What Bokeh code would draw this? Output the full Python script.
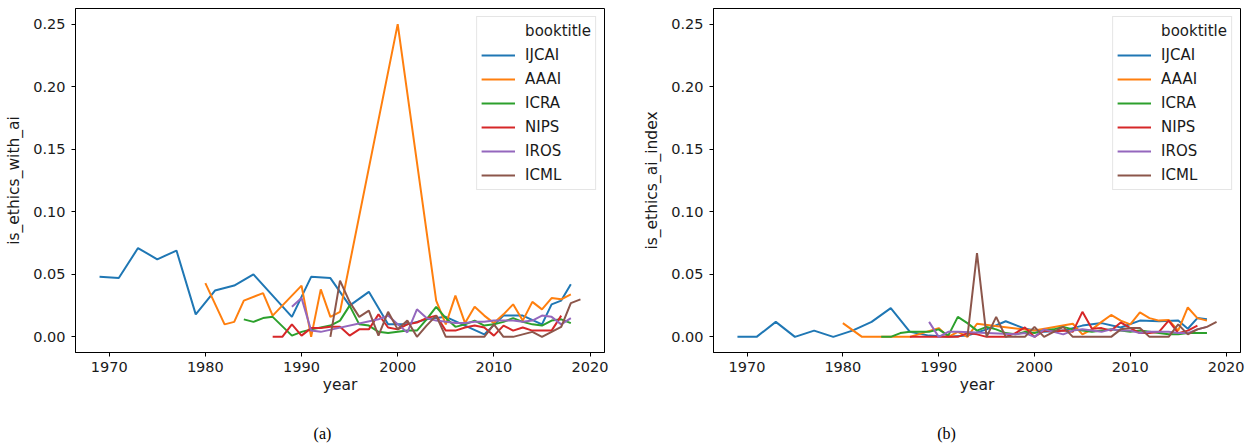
from bokeh.plotting import figure
from bokeh.models import Range1d, FixedTicker, NumeralTickFormatter, Legend, LegendItem, Label
from bokeh.layouts import row, column
from bokeh.embed import file_html
from bokeh.resources import INLINE

booktitles = ["IJCAI", "AAAI", "ICRA", "NIPS", "IROS", "ICML"]
palette = ["#1f77b4", "#ff7f0e", "#2ca02c", "#d62728", "#9467bd", "#8c564b"]
x_ticks = [1970, 1980, 1990, 2000, 2010, 2020]
y_ticks = [0.0, 0.05, 0.10, 0.15, 0.20, 0.25]

# ---------------- panel (a): is_ethics_with_ai ----------------
a_ijcai_year = [1969, 1971, 1973, 1975, 1977, 1979, 1981, 1983, 1985, 1987, 1989, 1991, 1993, 1995,
                1997, 1999, 2001, 2003, 2005, 2007, 2009, 2011, 2013, 2015, 2016, 2017, 2018]
a_ijcai_val = [0.048, 0.047, 0.071, 0.062, 0.069, 0.018, 0.037, 0.041, 0.050, 0.033, 0.016, 0.048, 0.047, 0.025,
               0.036, 0.010, 0.010, 0.014, 0.016, 0.009, 0.002, 0.017, 0.017, 0.010, 0.026, 0.029, 0.042]

a_aaai_year = [1980, 1982, 1983, 1984, 1986, 1987, 1990, 1991, 1992, 1993, 1994, 2000, 2004, 2005, 2006,
               2007, 2008, 2009, 2010, 2011, 2012, 2013, 2014, 2015, 2016, 2017, 2018]
a_aaai_val = [0.043, 0.010, 0.012, 0.029, 0.035, 0.017, 0.041, 0.000, 0.038, 0.016, 0.020, 0.250, 0.029, 0.010, 0.033,
              0.011, 0.024, 0.017, 0.011, 0.018, 0.026, 0.013, 0.028, 0.022, 0.031, 0.030, 0.034]

a_icra_year = [1984, 1985, 1986, 1987, 1989, 1990, 1991, 1992, 1993, 1994, 1995, 1996, 1997, 1998, 1999, 2000,
               2001, 2002, 2003, 2004, 2005, 2006, 2007, 2008, 2009, 2010, 2011, 2012, 2013, 2014, 2015, 2016,
               2017, 2018]
a_icra_val = [0.014, 0.012, 0.015, 0.016, 0.001, 0.004, 0.006, 0.0075, 0.009, 0.013, 0.025, 0.010, 0.009, 0.004,
              0.003, 0.004, 0.005, 0.005, 0.014, 0.024, 0.015, 0.008, 0.010, 0.013, 0.009, 0.010, 0.012, 0.015,
              0.012, 0.010, 0.009, 0.013, 0.014, 0.011]

a_nips_year = [1987, 1988, 1989, 1990, 1991, 1992, 1993, 1994, 1995, 1996, 1997, 1998, 1999, 2000, 2001, 2002,
               2003, 2004, 2005, 2006, 2007, 2008, 2009, 2010, 2011, 2012, 2013, 2014, 2015, 2016, 2017]
a_nips_val = [0.000, 0.000, 0.010, 0.001, 0.007, 0.007, 0.008, 0.008, 0.001, 0.006, 0.006, 0.018, 0.0075, 0.006,
              0.010, 0.0115, 0.015, 0.017, 0.005, 0.005, 0.0075, 0.009, 0.0075, 0.001, 0.009, 0.005, 0.0075,
              0.005, 0.005, 0.005, 0.017]

a_iros_year = [1989, 1990, 1991, 1992, 1998, 1999, 2000, 2001, 2002, 2003, 2004, 2005, 2006, 2007, 2008, 2009,
               2010, 2011, 2012, 2013, 2014, 2015, 2016, 2017, 2018]
a_iros_val = [0.024, 0.031, 0.005, 0.004, 0.014, 0.017, 0.010, 0.0035, 0.022, 0.015, 0.013, 0.012, 0.011, 0.011,
              0.012, 0.012, 0.013, 0.013, 0.013, 0.012, 0.013, 0.017, 0.016, 0.010, 0.015]

a_icml_year = [1993, 1994, 1995, 1996, 1997, 1998, 1999, 2000, 2001, 2002, 2003, 2004, 2005, 2006, 2007, 2008,
               2009, 2010, 2011, 2012, 2013, 2014, 2015, 2016, 2017, 2018, 2019]
a_icml_val = [0.000, 0.045, 0.028, 0.016, 0.021, 0.001, 0.020, 0.006, 0.013, 0.000, 0.009, 0.017, 0.000, 0.000,
              0.000, 0.000, 0.000, 0.010, 0.000, 0.000, 0.002, 0.004, 0.000, 0.004, 0.008, 0.027, 0.030]

# ---------------- panel (b): is_ethics_ai_index ----------------
b_ijcai_year = [1969, 1971, 1973, 1975, 1977, 1979, 1981, 1983, 1985, 1987, 1989, 1991, 1993, 1995,
                1997, 1999, 2001, 2003, 2005, 2007, 2009, 2011, 2013, 2015, 2016, 2017, 2018]
b_ijcai_val = [0.000, 0.000, 0.012, 0.000, 0.005, 0.000, 0.005, 0.012, 0.023, 0.004, 0.001, 0.000, 0.001, 0.006,
               0.0125, 0.0065, 0.004, 0.005, 0.009, 0.011, 0.0075, 0.013, 0.0125, 0.013, 0.0065, 0.015, 0.014]

b_aaai_year = [1980, 1982, 1983, 1984, 1986, 1987, 1990, 1991, 1992, 1993, 1994, 2000, 2004, 2005, 2006,
               2007, 2008, 2009, 2010, 2011, 2012, 2013, 2014, 2015, 2016, 2017, 2018]
b_aaai_val = [0.011, 0.000, 0.000, 0.000, 0.000, 0.000, 0.007, 0.000, 0.004, 0.000, 0.0105, 0.005, 0.0105, 0.002, 0.006,
              0.012, 0.0175, 0.013, 0.010, 0.0195, 0.015, 0.013, 0.0135, 0.005, 0.0235, 0.015, 0.013]

b_icra_year = [1984, 1985, 1986, 1987, 1989, 1990, 1991, 1992, 1993, 1994, 1995, 1996, 1997, 1998, 1999, 2000,
               2001, 2002, 2003, 2004, 2005, 2006, 2007, 2008, 2009, 2010, 2011, 2012, 2013, 2014, 2015, 2016,
               2017, 2018]
b_icra_val = [0.000, 0.000, 0.003, 0.004, 0.004, 0.006, 0.001, 0.016, 0.011, 0.005, 0.008, 0.006, 0.003, 0.002,
              0.004, 0.003, 0.005, 0.006, 0.008, 0.006, 0.005, 0.004, 0.005, 0.006, 0.005, 0.004, 0.005, 0.004,
              0.003, 0.002, 0.002, 0.003, 0.003, 0.003]

b_nips_year = [1987, 1988, 1989, 1990, 1991, 1992, 1993, 1994, 1995, 1996, 1997, 1998, 1999, 2000, 2001, 2002,
               2003, 2004, 2005, 2006, 2007, 2008, 2009, 2010, 2011, 2012, 2013, 2014, 2015, 2016, 2017]
b_nips_val = [0.000, 0.000, 0.000, 0.000, 0.000, 0.000, 0.003, 0.002, 0.000, 0.000, 0.000, 0.003, 0.0075, 0.000,
              0.005, 0.004, 0.005, 0.004, 0.020, 0.0065, 0.007, 0.005, 0.0115, 0.007, 0.003, 0.003, 0.004,
              0.013, 0.003, 0.005, 0.009]

b_iros_year = [1989, 1990, 1991, 1992, 1998, 1999, 2000, 2001, 2002, 2003, 2004, 2005, 2006, 2007, 2008, 2009,
               2010, 2011, 2012, 2013, 2014, 2015, 2016, 2017, 2018]
b_iros_val = [0.012, 0.000, 0.004, 0.004, 0.002, 0.003, 0.000, 0.006, 0.004, 0.002, 0.005, 0.006, 0.005, 0.004,
              0.006, 0.005, 0.005, 0.003, 0.004, 0.004, 0.004, 0.003, 0.003, 0.006, 0.008]

b_icml_year = [1993, 1994, 1995, 1996, 1997, 1998, 1999, 2000, 2001, 2002, 2003, 2004, 2005, 2006, 2007, 2008,
               2009, 2010, 2011, 2012, 2013, 2014, 2015, 2016, 2017, 2018, 2019]
b_icml_val = [0.000, 0.067, 0.000, 0.016, 0.000, 0.000, 0.000, 0.008, 0.000, 0.004, 0.008, 0.000, 0.000, 0.000,
              0.000, 0.000, 0.006, 0.007, 0.007, 0.000, 0.000, 0.000, 0.010, 0.002, 0.006, 0.008, 0.012]

panel_a = [(a_ijcai_year, a_ijcai_val), (a_aaai_year, a_aaai_val), (a_icra_year, a_icra_val),
           (a_nips_year, a_nips_val), (a_iros_year, a_iros_val), (a_icml_year, a_icml_val)]
panel_b = [(b_ijcai_year, b_ijcai_val), (b_aaai_year, b_aaai_val), (b_icra_year, b_icra_val),
           (b_nips_year, b_nips_val), (b_iros_year, b_iros_val), (b_icml_year, b_icml_val)]

TXT = "#1a1a1a"
FONT = "DejaVu Sans"
CAP_H = 30


def make_panel(series, ylabel, width, border_left, border_right):
    p = figure(width=width, height=447 - CAP_H,
               x_range=Range1d(1966.5, 2021.5), y_range=Range1d(-0.0125, 0.2625),
               output_backend="svg", toolbar_location=None,
               min_border_left=border_left, min_border_right=border_right,
               min_border_top=8, min_border_bottom=65)
    p.grid.visible = False
    p.outline_line_color = "#000000"
    p.outline_line_width = 1
    p.background_fill_color = "white"
    p.border_fill_color = "white"

    for ax in (p.xaxis[0], p.yaxis[0]):
        ax.axis_line_color = "#000000"
        ax.major_tick_line_color = "#000000"
        ax.major_tick_out = 4
        ax.major_tick_in = 0
        ax.minor_tick_line_color = None
        ax.major_label_text_font = FONT
        ax.major_label_text_font_size = "14.5px"
        ax.major_label_text_color = TXT
        ax.axis_label_text_font = FONT
        ax.axis_label_text_font_size = "15.5px"
        ax.axis_label_text_font_style = "normal"
        ax.axis_label_text_color = TXT

    p.xaxis.ticker = FixedTicker(ticks=x_ticks)
    p.yaxis.ticker = FixedTicker(ticks=y_ticks)
    p.yaxis.formatter = NumeralTickFormatter(format="0.00")
    p.xaxis.axis_label = "year"
    p.yaxis.axis_label = ylabel
    p.xaxis.major_label_standoff = 5
    p.xaxis.axis_label_standoff = 1
    p.yaxis.major_label_standoff = 6
    p.yaxis.axis_label_standoff = 7

    blank = p.line(x=[1970, 1971], y=[0, 0], line_alpha=0)
    items = [LegendItem(label="booktitle", renderers=[blank])]
    for name, color, (xs, ys) in zip(booktitles, palette, series):
        r = p.line(x=xs, y=ys, line_color=color, line_width=2)
        items.append(LegendItem(label=name, renderers=[r]))

    legend = Legend(items=items, location="top_right")
    legend.margin = 8
    legend.padding = 4
    legend.spacing = 4
    legend.label_height = 20
    legend.glyph_height = 20
    legend.glyph_width = 34
    legend.label_standoff = 10
    legend.label_text_font = FONT
    legend.label_text_font_size = "15px"
    legend.label_text_color = TXT
    legend.border_line_color = "#cccccc"
    legend.background_fill_alpha = 0.8
    p.add_layout(legend, "center")
    return p


def make_caption(text, width, cx):
    c = figure(width=width, height=CAP_H, x_range=Range1d(0, width), y_range=Range1d(0, CAP_H),
               output_backend="svg", toolbar_location=None, min_border=0)
    c.axis.visible = False
    c.grid.visible = False
    c.outline_line_color = None
    c.border_fill_color = "white"
    c.add_layout(Label(x=cx, y=14, text=text, text_align="center", text_baseline="middle",
                       text_font="Liberation Serif", text_font_size="16px", text_color="#000000"))
    return c


pa = make_panel(panel_a, "is_ethics_with_ai", 640, 75, 36)
pb = make_panel(panel_b, "is_ethics_ai_index", 617, 72, 17)
ca = make_caption("(a)", 640, 322)
cb = make_caption("(b)", 617, 306)

layout = column(row(pa, pb), row(ca, cb))
open("out.html", "w").write(file_html(layout, INLINE))
